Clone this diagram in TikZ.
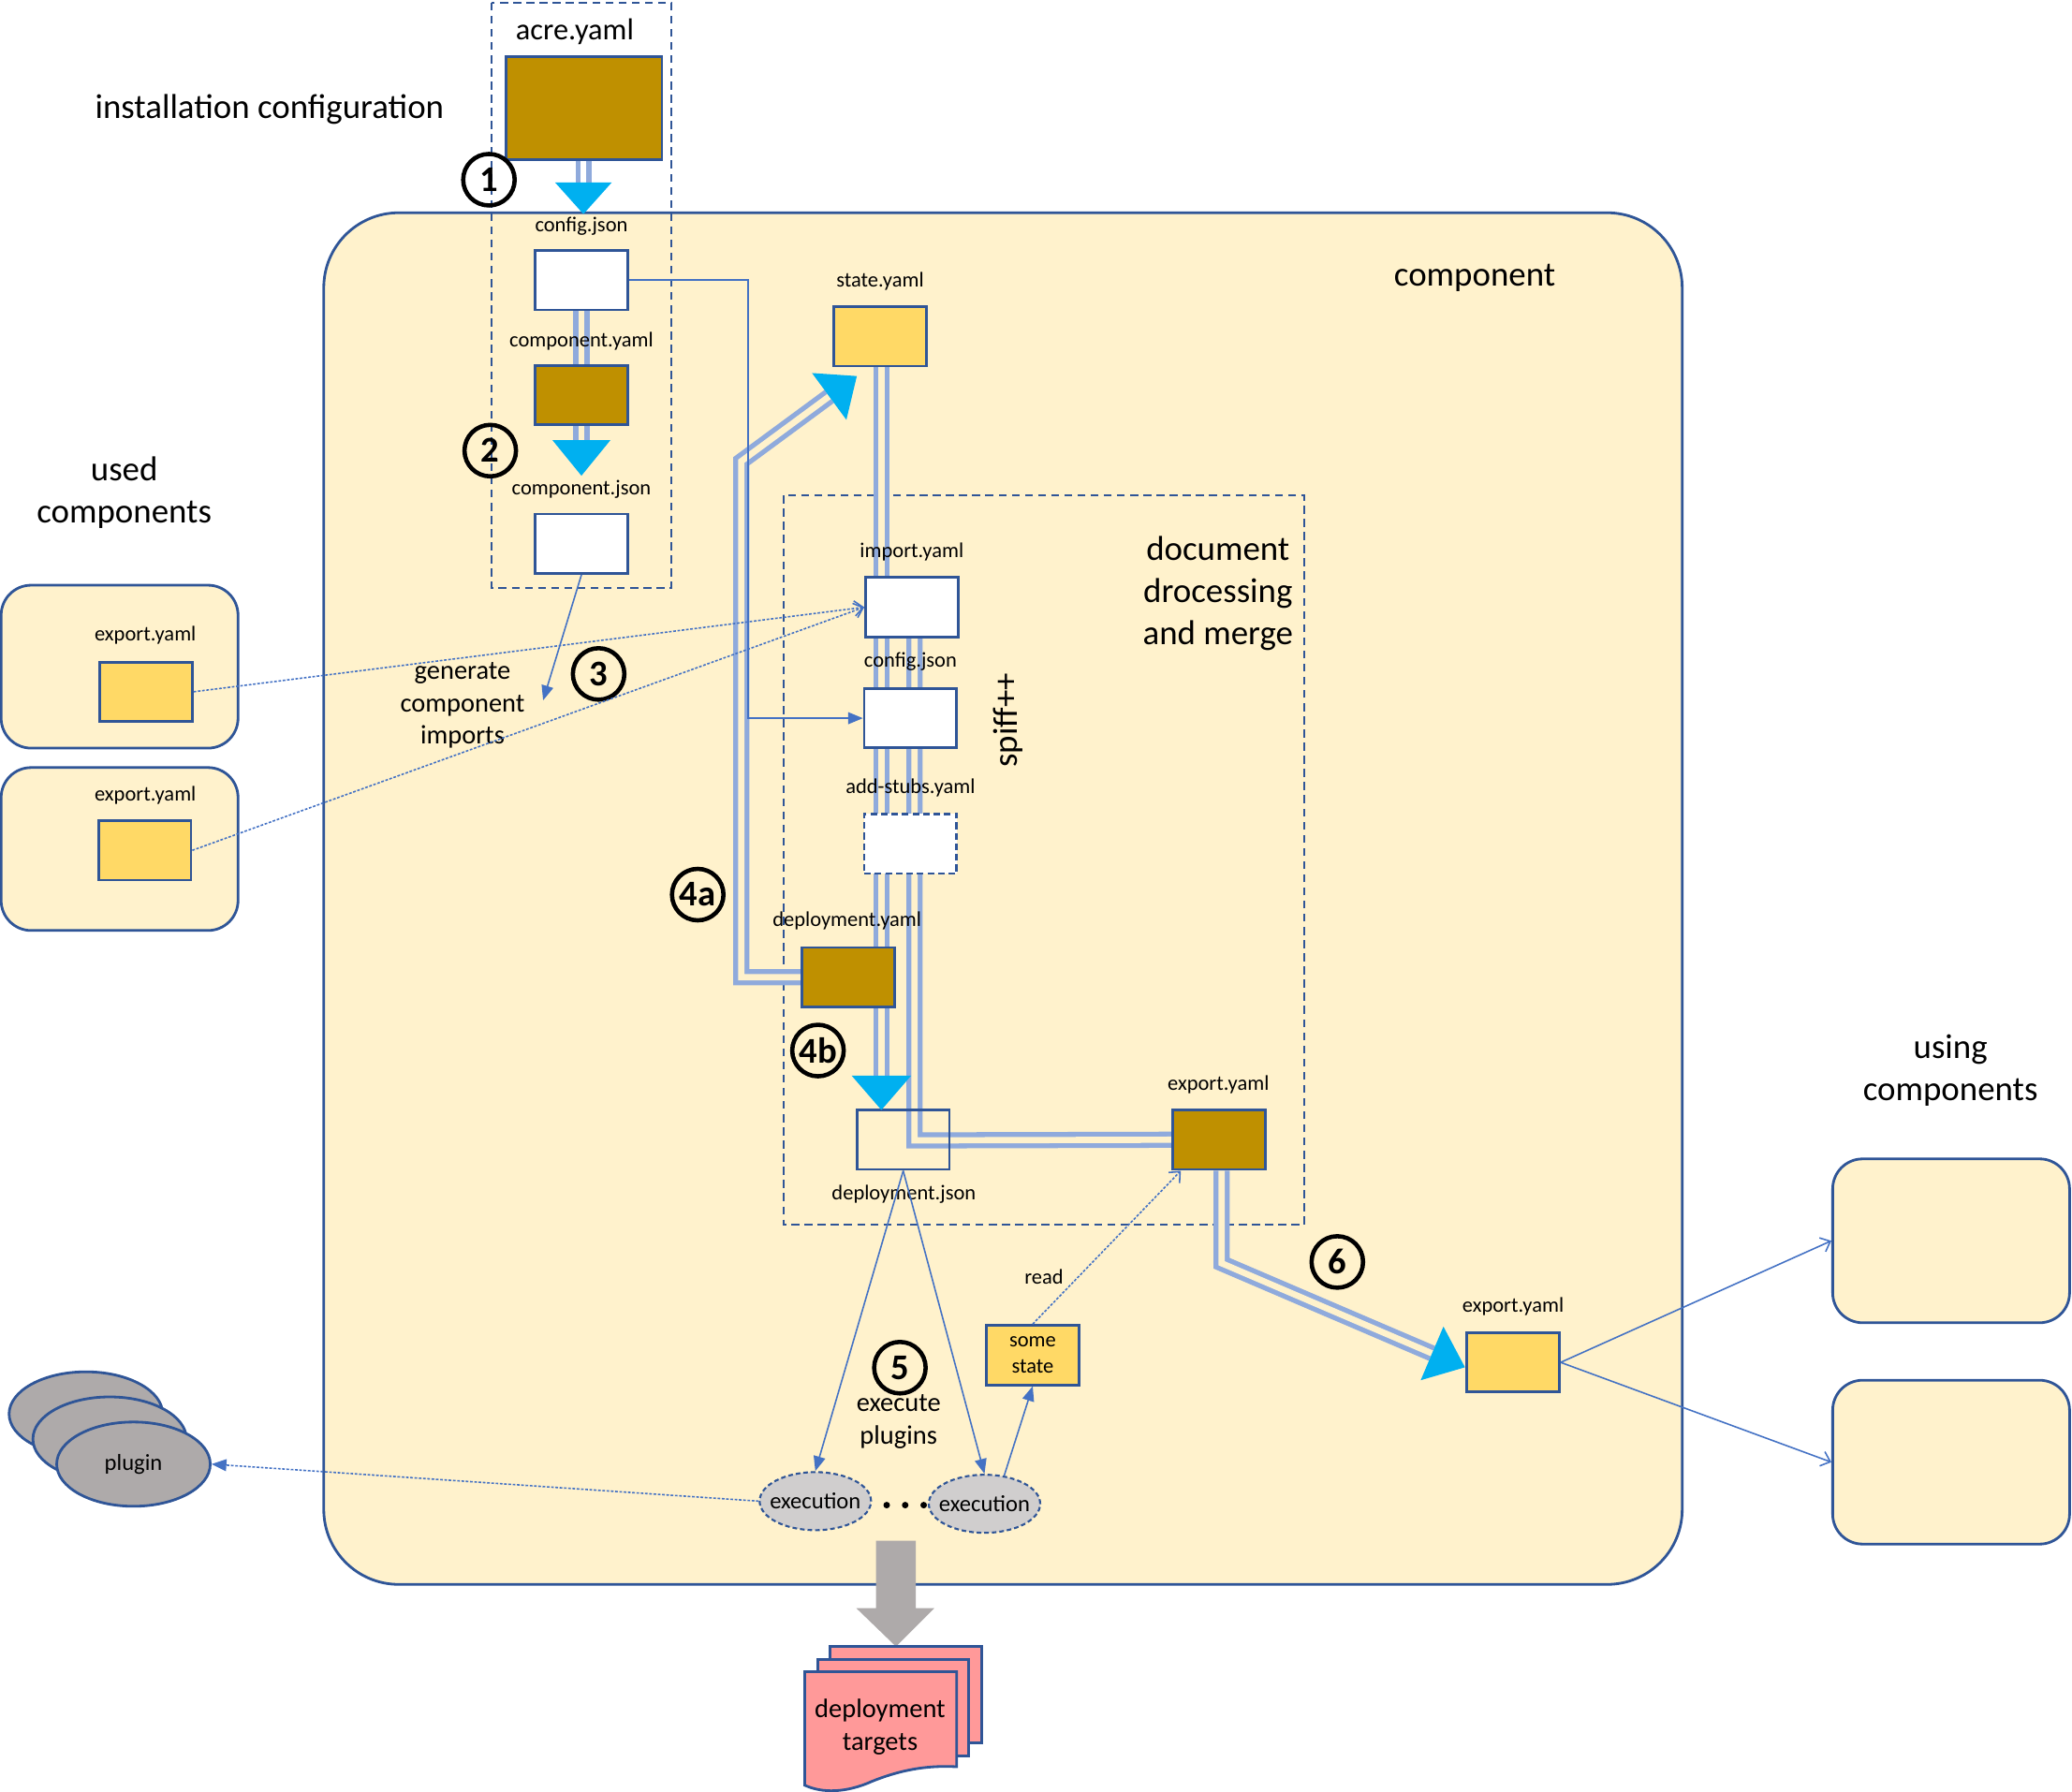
\documentclass[tikz,border=0pt]{standalone}
\usepackage{fontspec}
\setmainfont{Carlito}
\usepackage{tikz}
\usetikzlibrary{arrows.meta}
\usetikzlibrary{shapes.geometric}
\definecolor{filebrown}{HTML}{BF9000}
\definecolor{fileyellow}{HTML}{FFD966}
\definecolor{cream}{HTML}{FFF2CC}
\definecolor{boxblue}{HTML}{2F5597}
\definecolor{linkblue}{HTML}{4472C4}
\definecolor{pipeblue}{HTML}{8FAADC}
\definecolor{tipcyan}{HTML}{00B0F0}
\definecolor{plugray}{HTML}{AEAAAA}
\definecolor{execgray}{HTML}{D0CECE}
\definecolor{targetpink}{HTML}{FF9999}
\newcommand{\fsz}[2]{\fontsize{#1}{#2}\selectfont}
\pgfdeclarelayer{bg}
\pgfsetlayers{bg,main}

\begin{document}
\begin{tikzpicture}[x=0.14113mm,y=-0.14113mm]

    \tikzstyle{every node}=[inner sep=0pt]
    \tikzstyle{filebox}=[draw=boxblue,line width=0.8pt,minimum width=9.88mm,minimum height=6.35mm]
    \tikzstyle{fname}=[font=\fsz{6.4}{8},yshift=-0.28mm]
    \tikzstyle{big}=[font=\fsz{10.5}{12.8},align=center,yshift=-0.28mm]
    \tikzstyle{mid}=[font=\fsz{8.1}{9.8},align=center,yshift=-0.28mm]
    \tikzstyle{comp}=[draw=boxblue,fill=cream,line width=0.8pt,rounded corners=3.2mm,minimum width=25.3mm,minimum height=17.4mm]
    \tikzstyle{num}=[draw,circle,line width=1.3pt,minimum size=5.5mm,font=\bfseries\fsz{11}{11}]
    \tikzstyle{exec}=[draw=boxblue,fill=execgray,ellipse,line width=0.6pt,dash pattern=on 1.4pt off 0.9pt,minimum width=11.9mm,minimum height=6.2mm]
    \tikzstyle{execfont}=[font=\fsz{7}{8}]
    \tikzstyle{plug}=[draw=boxblue,fill=plugray,ellipse,line width=0.8pt,minimum width=16.4mm,minimum height=9mm,font=\fsz{7}{8}]
    \tikzstyle{pipe}=[draw=pipeblue,line width=1.5pt,double=cream,double distance=1.9pt]
    \tikzstyle{conn}=[draw=linkblue,line width=0.45pt]
    \tikzstyle{dotline}=[conn,dash pattern=on 0.8pt off 0.5pt]
    \tikzstyle{solid tip}=[-{Triangle[length=4.5pt,width=3.6pt]}]
    \tikzstyle{open tip}=[-{Straight Barb[length=2.6pt,width=4.6pt]}]
    \tikzstyle{dashframe}=[draw=boxblue,line width=0.6pt,dash pattern=on 2.4pt off 1.6pt]
    \tikzstyle{bighead}=[fill=tipcyan]
    \tikzstyle{sheet}=[draw=boxblue,fill=targetpink,line width=0.8pt]

    \useasboundingbox (0,0) rectangle (1568,1356);

    % installation configuration
    \node[big] (inst) at (204,81) {installation configuration};
    \node[font=\fsz{9.2}{11},yshift=-0.28mm] (acrel) at (435,22) {acre.yaml};
    \node[filebox,fill=filebrown,minimum width=16.65mm,minimum height=11mm] (acre) at (442,82) {};
    \node[fname] (cfgl) at (440,169) {config.json};
    \node[filebox,fill=white] (cfg) at (440,212) {};
    \node[fname] (cyl) at (440,256) {component.yaml};
    \node[filebox,fill=filebrown] (cy) at (440,299) {};
    \node[fname] (cjl) at (440,368) {component.json};
    \node[filebox,fill=white] (cj) at (440,411.5) {};

    % used components
    \node[big] (usedl) at (94,371) {used\\components};
    \node[comp] (uc1) at (90.5,504.5) {};
    \node[comp] (uc2) at (90.5,642.5) {};
    \node[fname] (ey1l) at (110,479) {export.yaml};
    \node[filebox,fill=fileyellow] (ey1) at (110.5,523.5) {};
    \node[fname] (ey2l) at (110,600) {export.yaml};
    \node[filebox,fill=fileyellow] (ey2) at (109.5,643.5) {};

    % component
    \node[big] (compl) at (1116,208) {component};
    \node[fname] (stl) at (666,211) {state.yaml};
    \node[filebox,fill=fileyellow] (st) at (666,254.5) {};
    \node[mid] (genl) at (350,532) {generate\\component\\imports};
    \node[big,anchor=east] (docl) at (979,447) {document\\drocessing\\and merge};
    \node[big,rotate=90] (spiff) at (763,543) {spiff++};

    \node[fname] (impl) at (690,416) {import.yaml};
    \node[filebox,fill=white] (imp) at (690,459.5) {};
    \node[fname] (cfg2l) at (689,499) {config.json};
    \node[filebox,fill=white] (cfg2) at (689,543.5) {};
    \node[fname] (stubl) at (689,594) {add-stubs.yaml};
    \node[filebox,fill=white,dash pattern=on 2pt off 1.2pt] (stub) at (689,638.5) {};
    \node[fname] (dyl) at (641,695) {deployment.yaml};
    \node[filebox,fill=filebrown] (dy) at (642,739.5) {};
    \node[filebox] (dj) at (683.5,862.5) {};
    \node[fname] (djl) at (684,902) {deployment.json};
    \node[fname] (exil) at (922,819) {export.yaml};
    \node[filebox,fill=filebrown] (exi) at (922.5,862.5) {};

    \node[fname] (readl) at (790,964) {read};
    \node[filebox,fill=fileyellow,font=\fsz{6.4}{8},align=center] (ss) at (781.5,1025.5) {some\\state};
    \node[mid] (execl) at (680,1074) {execute\\plugins};
    \node[exec,label={[execfont]center:execution}] (e1) at (617,1136) {};
    \node[exec,label={[execfont]center:execution}] (e2) at (745,1138) {};
    \foreach \x in {671,685,699} \fill (\x,1139) circle (0.35mm);

    \node[fname] (exol) at (1145,987) {export.yaml};
    \node[filebox,fill=fileyellow] (exo) at (1145,1031) {};

    % using components
    \node[big] (usingl) at (1476,808) {using\\components};
    \node[comp,minimum height=17.5mm] (us1) at (1476.5,939) {};
    \node[comp,minimum height=17.5mm] (us2) at (1476.5,1106.5) {};

    % plugins
    \node[plug] (pl1) at (65,1070) {};
    \node[plug] (pl2) at (83,1089) {};
    \node[plug] (pl3) at (101,1108) {plugin};

    % steps
    \node[num] (n1) at (370,136) {1};
    \node[num] (n2) at (371,341) {2};
    \node[num] (n3) at (453,510) {3};
    \node[num] (n4a) at (528,677) {4a};
    \node[num] (n4b) at (619,795) {4b};
    \node[num] (n5) at (681,1035) {5};
    \node[num] (n6) at (1012,955) {6};

    \coordinate (t1) at (441.5,138);
    \coordinate (t2) at (440,333);
    \coordinate (t4b) at (667,814);
    \coordinate (bB) at (692,863);
    \coordinate (k2) at (561,349);
    \coordinate (t4a) at (627.5,300);
    \coordinate (k3) at (924.5,956);
    \coordinate (t6) at (1083.7,1024.2);
    \coordinate (kc) at (566,212);
    \coordinate (g3) at (411,530);

    \begin{pgfonlayer}{bg}
      \draw[draw=boxblue,fill=cream,line width=0.8pt,rounded corners=8mm] (245,161) rectangle (1273,1199);
      \draw[dashframe] (372,2) rectangle (508,445);
      \draw[dashframe] (593,375) rectangle (987,927);

      % pipes
      \draw[pipe,double=white] (acre.south -| t1) -- (t1);
      \draw[pipe] (cfg.south) -- (cy.north);
      \draw[pipe] (cy.south) -- (t2);
      \draw[pipe] (st.south -| t4b) -- (t4b);
      \draw[pipe] (imp.south -| bB) -- (bB) -- (exi.west);
      \draw[pipe] (dy.west) -| (k2) -- (t4a);
      \draw[pipe] (exi.south -| k3) -- (k3) -- (t6);
    \end{pgfonlayer}

    % big heads
    \fill[bighead] (t1) ++(-21.5,0) -- ++(43,0) -- ++(-21.5,24) -- cycle;
    \fill[bighead] (t2) ++(-22,0) -- ++(44,0) -- ++(-22,27) -- cycle;
    \fill[bighead] (t4b) ++(-22.5,0) -- ++(45,0) -- ++(-22.5,26) -- cycle;
    \fill[bighead] (614.5,282.3) -- (640.5,317.7) -- (648.4,284.6) -- cycle;
    \fill[bighead] (1075.1,1044.5) -- (1092.3,1003.9) -- (1108.6,1034.7) -- cycle;

    % thin links
    \draw[conn,solid tip] (cj.south) -- (g3);
    \draw[conn,solid tip] (cfg.east) -- (kc) |- (cfg2.west);
    \draw[dotline,open tip] (ey1.east) -- (imp.west);
    \draw[dotline,open tip] (ey2.east) -- (imp.west);
    \draw[conn,solid tip] (dj.south) -- (e1.north);
    \draw[conn,solid tip] (dj.south) -- (e2.north);
    \draw[conn,solid tip] (e2.55) -- (ss.south);
    \draw[dotline,open tip] (ss.north) -- ([xshift=1mm]exi.south west);
    \draw[dotline,solid tip] (e1.west) -- (pl3.east);
    \draw[conn,open tip] (exo.east) -- (us1.west);
    \draw[conn,open tip] (exo.east) -- (us2.west);

    % deployment targets
    \fill[plugray] (663,1166) -- (693,1166) -- (693,1217) -- (707,1217) -- (678,1246) -- (648,1217) -- (663,1217) -- cycle;
    \draw[sheet] (628,1246) rectangle (743,1319);
    \draw[sheet] (619,1256) rectangle (733,1329);
    \draw[sheet] (609,1265) -- (724,1265) -- (724,1337) .. controls (705,1336) and (685,1338) .. (660,1348) .. controls (640,1357) and (622,1357) .. (609,1351) -- cycle;
    \node[mid] (tgt) at (666,1305) {deployment\\targets};

\end{tikzpicture}
\end{document}
